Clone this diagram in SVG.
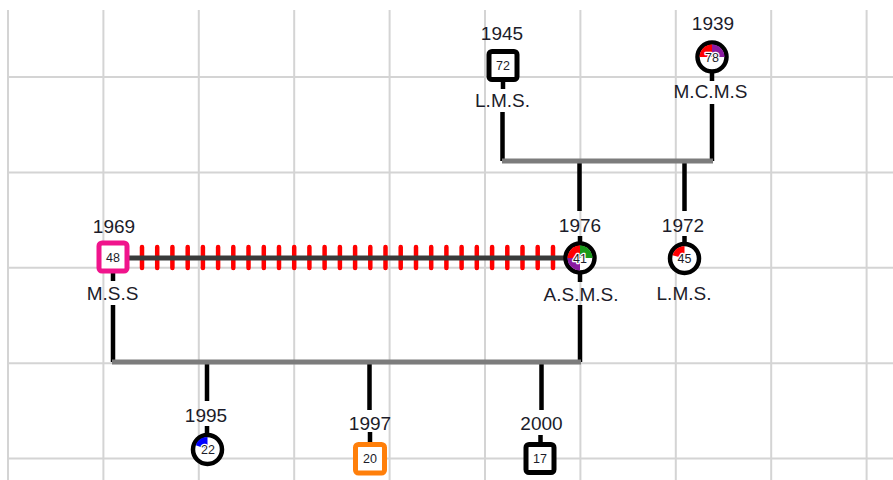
<svg xmlns="http://www.w3.org/2000/svg" width="893" height="480" viewBox="0 0 893 480">
<style>
.grid line{stroke:#d4d4d4;stroke-width:2}
.lbl{font-family:"Liberation Sans",Arial,sans-serif;font-size:19px;fill:#1c1c2a;text-anchor:middle}
.num{font-family:"Liberation Sans",Arial,sans-serif;font-size:12.5px;fill:#1c1c2a;text-anchor:middle;stroke:#fff;stroke-width:2.5;paint-order:stroke;stroke-linejoin:round}
.link{stroke:#000;stroke-width:4.5;fill:none}
.bar{stroke:#7c7c7c;stroke-width:5;fill:none}
.sq{fill:#fff;stroke-width:5}
.ci{fill:#fff;stroke:#000;stroke-width:4.5}
</style>
<rect width="893" height="480" fill="#fff"/>
<g id="grid" class="grid">
<line x1="8" y1="10" x2="8" y2="480"/>
<line x1="103.4" y1="10" x2="103.4" y2="480"/>
<line x1="198.8" y1="10" x2="198.8" y2="480"/>
<line x1="294.2" y1="10" x2="294.2" y2="480"/>
<line x1="389.6" y1="10" x2="389.6" y2="480"/>
<line x1="485" y1="10" x2="485" y2="480"/>
<line x1="580.4" y1="10" x2="580.4" y2="480"/>
<line x1="675.8" y1="10" x2="675.8" y2="480"/>
<line x1="771.2" y1="10" x2="771.2" y2="480"/>
<line x1="866.6" y1="10" x2="866.6" y2="480"/>
<line x1="8" y1="77" x2="893" y2="77"/>
<line x1="8" y1="172.4" x2="893" y2="172.4"/>
<line x1="8" y1="267.8" x2="893" y2="267.8"/>
<line x1="8" y1="363.2" x2="893" y2="363.2"/>
<line x1="8" y1="458.6" x2="893" y2="458.6"/>
</g>
<g id="connectors">
<path class="link" d="M502.5 112V161M712 104V161M579.5 161V211M684.5 161V211"/>
<path class="bar" d="M502 161H713"/>
<path class="link" d="M113 305V362M580 305V362M207 362V401M369.5 362V410M541.5 362V410"/>
<path class="bar" d="M112 362H581"/>
<path class="link" d="M503 80V89M712 72V81M113 272V281M580 236V243M580 273V282M684.5 236V244M207 426V434M370 432V443M540.5 435V443"/>
<g id="relationship">
<path d="M142 247V268M157.2 247V268M172.4 247V268M187.7 247V268M202.9 247V268M218.1 247V268M233.3 247V268M248.5 247V268M263.8 247V268M279 247V268M294.2 247V268M309.4 247V268M324.6 247V268M339.9 247V268M355.1 247V268M370.3 247V268M385.5 247V268M400.7 247V268M416 247V268M431.2 247V268M446.4 247V268M461.6 247V268M476.8 247V268M492.1 247V268M507.3 247V268M522.5 247V268M537.7 247V268M553 247V268" stroke="#ff0000" stroke-width="4.5" stroke-linecap="round" fill="none"/>
<path d="M129 258H564" stroke="#3a3a3a" stroke-width="5"/>
</g>
</g>
<g id="n1945">
<text class="lbl" x="502" y="40">1945</text>
<rect class="sq" x="489" y="51.5" width="28" height="28" rx="3" stroke="#000"/>
<text class="num" x="503" y="70">72</text>
<text class="lbl" x="502.5" y="107">L.M.S.</text>
</g>
<g id="n1939">
<text class="lbl" x="713" y="29.5">1939</text>
<circle class="ci" cx="712" cy="57" r="14.5"/>
<path d="M712 57L699.5 57A12.5 12.5 0 0 1 712 44.5Z" fill="#ff0000"/>
<path d="M712 57L712 44.5A12.5 12.5 0 0 1 724.5 57Z" fill="#8a1aa0"/>
<text class="num" x="712" y="61.5">78</text>
<text class="lbl" x="710.5" y="98">M.C.M.S</text>
</g>
<g id="n1969">
<text class="lbl" x="114" y="233">1969</text>
<rect class="sq" x="99" y="243" width="28" height="28" rx="3" stroke="#f0148c"/>
<text class="num" x="113" y="261.5">48</text>
<text class="lbl" x="112.5" y="300">M.S.S</text>
</g>
<g id="n1976">
<text class="lbl" x="580" y="232">1976</text>
<circle class="ci" cx="580" cy="258" r="14.5"/>
<path d="M580 258L567.5 258A12.5 12.5 0 0 1 580 245.5Z" fill="#ff0000"/>
<path d="M580 258L580 245.5A12.5 12.5 0 0 1 592.5 258Z" fill="#1a9a1a"/>
<path d="M580 258L580 270.5A12.5 12.5 0 0 1 567.5 258Z" fill="#8a1aa0"/>
<text class="num" x="580" y="262.5">41</text>
<text class="lbl" x="581" y="301">A.S.M.S.</text>
</g>
<g id="n1972">
<text class="lbl" x="683" y="232">1972</text>
<circle class="ci" cx="684.5" cy="258.5" r="14.5"/>
<path d="M684.5 258.5L672.4 255.3A12.5 12.5 0 0 1 684.5 246Z" fill="#ff0000"/>
<text class="num" x="684.5" y="263">45</text>
<text class="lbl" x="684" y="300">L.M.S.</text>
</g>
<g id="n1995">
<text class="lbl" x="206" y="422">1995</text>
<circle class="ci" cx="207.5" cy="449.5" r="14.5"/>
<path d="M207.5 449.5L195.8 445.2A12.5 12.5 0 0 1 207.5 437Z" fill="#0000ff"/>
<text class="num" x="208" y="454">22</text>
</g>
<g id="n1997">
<text class="lbl" x="370" y="430">1997</text>
<rect class="sq" x="355.5" y="444.5" width="29" height="28.5" rx="3" stroke="#ff7f0a"/>
<text class="num" x="370" y="463">20</text>
</g>
<g id="n2000">
<text class="lbl" x="541.5" y="430">2000</text>
<rect class="sq" x="526" y="444.5" width="28" height="28" rx="3" stroke="#000"/>
<text class="num" x="540" y="463">17</text>
</g>
</svg>
